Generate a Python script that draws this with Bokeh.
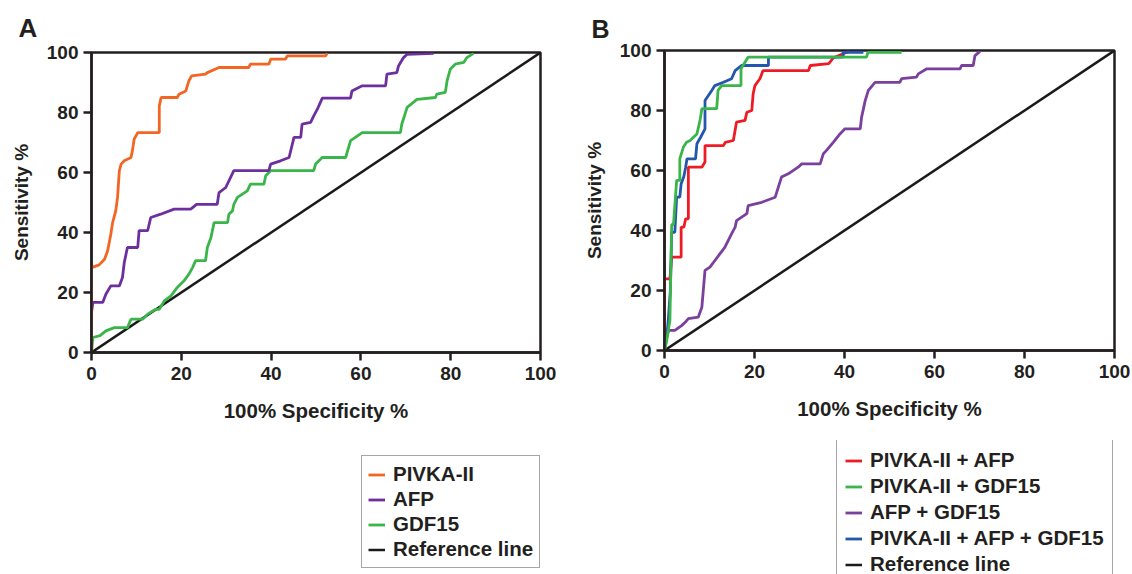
from bokeh.plotting import figure
from bokeh.models import Range1d, FixedTicker, Legend, LegendItem
from bokeh.layouts import row, column
from bokeh.embed import file_html
from bokeh.resources import INLINE

# ---------------- data ----------------
tick_values = [0, 20, 40, 60, 80, 100]
tick_labels = ["0", "20", "40", "60", "80", "100"]

ref_x = [0, 100]
ref_y = [0, 100]

# Panel A
pivka_fpr = [0, 0, 1.7, 2.9, 3.6, 4.3, 4.7, 5.4, 5.8, 6.2, 6.6, 7.3, 8.8, 9.1, 9.5, 10.3, 15.1, 15.1, 15.5,
             19.1, 19.5, 21.0, 21.7, 22.3, 25.4, 25.8, 28.4, 35.0, 35.4, 39.5, 39.9, 43.2, 43.6, 52.1, 52.5]
pivka_tpr = [0, 28.3, 29.2, 31.1, 33.9, 39.4, 43.3, 47.2, 51.7, 60.6, 62.8, 63.9, 65.0, 67.2, 71.1, 73.3, 73.3, 82.2, 85.0,
             85.0, 86.1, 87.2, 90.6, 92.2, 92.8, 93.3, 95.0, 95.0, 96.1, 96.1, 97.8, 97.8, 98.9, 98.9, 99.7]

afp_fpr = [0, 0, 0.3, 2.5, 3.2, 4.3, 6.2, 6.9, 7.3, 8.0, 10.3, 10.6, 12.5, 13.2, 15.4, 18.4, 22.1, 23.4, 28.0, 28.4,
           29.9, 31.7, 39.5, 39.9, 42.1, 44.0, 45.1, 46.6, 46.9, 48.8, 49.5, 50.3, 51.4, 57.7, 58.0, 60.3, 65.5,
           65.8, 68.0, 68.4, 69.5, 70.3, 76.2]
afp_tpr = [0, 13.3, 16.7, 16.7, 19.4, 22.2, 22.2, 25.0, 30.0, 35.0, 35.0, 40.6, 40.6, 45.0, 46.1, 47.8, 47.8, 49.4, 49.4, 53.3,
           55.0, 60.6, 60.6, 62.8, 63.9, 65.0, 71.7, 71.7, 76.1, 76.7, 78.9, 81.1, 84.8, 84.8, 87.2, 88.9, 88.9,
           92.8, 93.3, 95.6, 98.3, 99.4, 99.7]

gdf15_fpr = [0, 0.3, 1.9, 3.2, 5.1, 8.0, 8.8, 11.4, 12.5, 14.3, 15.1, 16.2, 17.7, 19.1, 20.6, 21.7, 22.5, 23.2, 25.4,
             25.8, 26.6, 27.3, 30.3, 30.6, 31.4, 31.7, 32.5, 33.6, 34.7, 35.4, 38.4, 38.8, 39.9, 49.5, 49.9, 51.4,
             56.6, 57.7, 60.3, 68.8, 69.1, 70.3, 72.5, 76.6, 76.9, 78.8, 79.2, 79.9, 81.0, 82.9, 83.6, 85.1]
gdf15_tpr = [0, 5.0, 5.6, 7.2, 8.3, 8.3, 11.1, 11.1, 12.8, 14.4, 14.4, 17.2, 18.9, 21.7, 23.9, 26.1, 28.3, 30.6, 30.6,
             35.0, 38.3, 43.3, 43.3, 46.1, 47.2, 49.4, 51.7, 52.8, 53.9, 56.1, 56.1, 58.9, 60.6, 60.6, 62.8, 65.0,
             65.0, 70.6, 73.3, 73.3, 76.1, 81.7, 84.4, 85.0, 86.1, 86.7, 90.6, 94.4, 96.1, 96.7, 98.3, 99.7]

# Panel B
pa_fpr = [0, 0, 1.2, 1.6, 3.7, 3.7, 4.3, 4.7, 5.3, 5.3, 8.3, 9.0, 9.0, 13.1, 13.5, 15.3, 16.0, 17.9, 18.3, 19.4,
          19.7, 20.1, 21.2, 21.9, 32.0, 32.4, 36.5, 37.5, 39.0, 41.0]
pa_tpr = [0, 23.9, 23.9, 31.1, 31.1, 41.1, 41.1, 43.9, 43.9, 61.1, 61.1, 62.8, 68.3, 68.3, 69.4, 70.0, 76.1, 76.7, 79.4, 80.0,
          85.6, 88.3, 90.6, 93.3, 93.3, 95.0, 95.6, 97.5, 98.5, 99.7]

pg_fpr = [0, 0.5, 1.2, 1.6, 2.0, 2.7, 3.4, 3.4, 4.2, 4.9, 5.7, 7.2, 7.9, 8.3, 11.6, 11.9, 12.7, 17.0, 17.0, 18.6,
          44.9, 45.2, 52.7]
pg_tpr = [0, 3.3, 10.0, 42.0, 42.0, 56.7, 56.7, 63.9, 67.8, 69.4, 70.0, 72.2, 76.7, 80.6, 80.6, 86.7, 88.3, 88.3, 93.9, 97.8,
          97.8, 99.4, 99.4]

ag_fpr = [0, 0.3, 0.9, 2.3, 3.8, 4.6, 5.3, 7.5, 8.3, 9.0, 10.1, 11.2, 12.3, 13.4, 14.9, 15.7, 16.0, 18.3, 18.6, 21.6,
          24.6, 26.0, 27.5, 29.7, 30.5, 34.6, 35.3, 36.0, 37.5, 39.0, 40.1, 43.5, 43.8, 44.6, 45.3, 46.8, 52.3,
          52.7, 56.0, 56.4, 58.3, 65.7, 66.0, 68.6, 69.0, 70.1]
ag_tpr = [0, 3.3, 6.7, 6.7, 8.3, 9.4, 10.6, 11.1, 14.4, 26.7, 27.8, 30.0, 32.2, 34.4, 38.9, 41.1, 43.3, 45.6, 48.3, 49.4,
          51.1, 57.8, 58.9, 61.1, 62.2, 62.2, 65.6, 66.7, 69.4, 72.2, 73.9, 73.9, 77.8, 83.3, 86.7, 89.4, 89.4,
          90.6, 91.1, 92.2, 93.9, 93.9, 95.0, 95.0, 98.3, 99.7]

pag_fpr = [0, 0.5, 0.8, 1.3, 1.6, 2.3, 2.7, 3.4, 3.7, 4.3, 4.7, 5.0, 6.9, 7.2, 8.0, 9.0, 9.0, 10.5, 11.2, 13.1,
           14.9, 15.7, 17.1, 23.1, 23.1, 39.7, 39.7, 44.2]
pag_tpr = [0, 5.0, 9.4, 20.0, 39.4, 39.4, 51.1, 51.1, 55.6, 58.0, 61.1, 63.9, 63.9, 68.9, 71.0, 73.9, 83.3, 86.7, 88.3, 89.4,
           90.6, 93.3, 95.0, 95.0, 97.8, 97.8, 99.4, 99.4]

legend_a_labels = ["PIVKA-II", "AFP", "GDF15", "Reference line"]
legend_b_labels = ["PIVKA-II + AFP", "PIVKA-II + GDF15", "AFP + GDF15", "PIVKA-II + AFP + GDF15", "Reference line"]

# ---------------- styling ----------------
FONT = "Liberation Sans"
TXT = "#231f20"
FS = "19px"
LW = 2.8
C_ORANGE, C_PURPLE_A, C_GREEN = "#f26522", "#6e2f9e", "#3ab54a"
C_RED, C_PURPLE_B, C_BLUE, C_BLACK = "#ed1c24", "#7b3f9e", "#2356ad", "#1a1a1a"


def make_fig(left, right, top, bottom, letter, letter_size, letter_standoff):
    p = figure(width=566, height=440, output_backend="svg", toolbar_location=None,
               x_range=Range1d(0, 100), y_range=Range1d(0, 100),
               min_border_left=left, min_border_right=right,
               min_border_top=top, min_border_bottom=bottom)
    p.grid.visible = False
    p.outline_line_color = TXT
    p.outline_line_width = 2.5
    p.outline_line_alpha = 1
    p.background_fill_color = "white"
    p.border_fill_color = "white"
    p.title.text = letter
    p.title.align = "left"
    p.title.offset = -73
    p.title.standoff = letter_standoff
    p.title.text_font = FONT
    p.title.text_font_style = "bold"
    p.title.text_font_size = letter_size
    p.title.text_color = TXT
    for ax in (p.xaxis[0], p.yaxis[0]):
        ax.ticker = FixedTicker(ticks=tick_values)
        ax.major_label_overrides = {v: s for v, s in zip(tick_values, tick_labels)}
        ax.major_tick_in = 0
        ax.major_tick_out = 8
        ax.major_tick_line_width = 2.5
        ax.major_tick_line_color = TXT
        ax.minor_tick_line_color = None
        ax.axis_line_width = 2.5
        ax.axis_line_color = TXT
        ax.major_label_text_font = FONT
        ax.major_label_text_font_style = "bold"
        ax.major_label_text_font_size = FS
        ax.major_label_text_color = TXT
        ax.axis_label_text_font = FONT
        ax.axis_label_text_font_style = "bold"
        ax.axis_label_text_color = TXT
    p.xaxis.axis_label = "100% Specificity %"
    p.yaxis.axis_label = "Sensitivity %"
    p.xaxis.axis_label_text_font_size = "20.5px"
    p.yaxis.axis_label_text_font_size = FS
    p.xaxis.major_label_standoff = 6
    p.yaxis.major_label_standoff = 5
    p.xaxis.axis_label_standoff = 16
    p.yaxis.axis_label_standoff = 12
    return p


def make_legend_fig(labels, colors, widths, abs_left, frame_left, vy, pad, spacing):
    f = figure(width=566, height=134, output_backend="svg", toolbar_location=None,
               x_range=Range1d(0, 1), y_range=Range1d(0, 1),
               x_axis_type=None, y_axis_type=None,
               min_border_left=0, min_border_right=0, min_border_top=0, min_border_bottom=0)
    # keep this legend panel's frame independent of the chart frame above it
    try:
        f.frame_align = False
        x0 = 0
    except Exception:
        x0 = frame_left
    f.grid.visible = False
    f.outline_line_color = None
    f.background_fill_color = "white"
    f.border_fill_color = "white"
    items = []
    for lab, col, w in zip(labels, colors, widths):
        # proxy line lying outside the visible range: only its legend swatch is seen
        r = f.line([5, 6], [5, 6], line_color=col, line_width=w)
        items.append(LegendItem(label=lab, renderers=[r]))
    leg = Legend(items=items, location=(abs_left - x0, vy), margin=0, padding=pad, spacing=spacing,
                 label_height=21, glyph_height=21, glyph_width=17, label_standoff=8,
                 label_text_font=FONT, label_text_font_style="bold", label_text_font_size="20.5px",
                 label_text_color=TXT, border_line_color="#4d4d4d", border_line_width=1.5,
                 background_fill_color="white", background_fill_alpha=1)
    f.add_layout(leg, "center")
    return f


# ---------------- panel A ----------------
pA = make_fig(91, 26, 52, 88, "A", "26px", 19)
pA.line(ref_x, ref_y, line_color=C_BLACK, line_width=2.5)
pA.line(gdf15_fpr, gdf15_tpr, line_color=C_GREEN, line_width=LW)
pA.line(afp_fpr, afp_tpr, line_color=C_PURPLE_A, line_width=LW)
pA.line(pivka_fpr, pivka_tpr, line_color=C_ORANGE, line_width=LW)
lA = make_legend_fig(legend_a_labels, [C_ORANGE, C_PURPLE_A, C_GREEN, C_BLACK], [LW, LW, LW, 2.5],
                     361, 91, 6, 6, 1)

# ---------------- panel B ----------------
pB = make_fig(98, 18, 50, 90, "B", "25px", 16)
pB.line(ref_x, ref_y, line_color=C_BLACK, line_width=2.5)
pB.line(ag_fpr, ag_tpr, line_color=C_PURPLE_B, line_width=LW)
pB.line(pa_fpr, pa_tpr, line_color=C_RED, line_width=LW)
pB.line(pag_fpr, pag_tpr, line_color=C_BLUE, line_width=LW)
pB.line(pg_fpr, pg_tpr, line_color=C_GREEN, line_width=LW)
lB = make_legend_fig(legend_b_labels, [C_RED, C_GREEN, C_PURPLE_B, C_BLUE, C_BLACK], [LW, LW, LW, LW, 2.5],
                     836 - 566, 98, -11, 8, 2)

layout = row(column(pA, lA), column(pB, lB))
open("out.html", "w").write(file_html(layout, INLINE))
